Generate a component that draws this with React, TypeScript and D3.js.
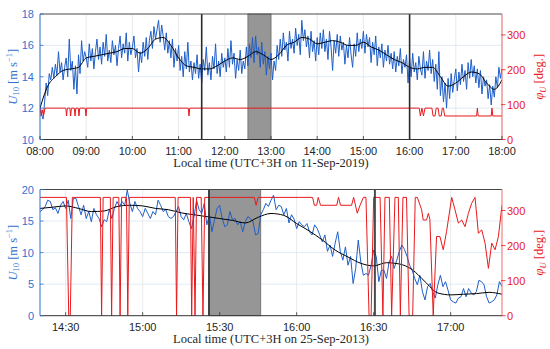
import * as d3 from "d3";

const W = 550;
const H = 349;

// ---- top panel: 11-Sep-2019, 08:00-18:00 ----
const topRange = ["08:00", "18:00"];
const topTicks = ["08:00", "09:00", "10:00", "11:00", "12:00", "13:00", "14:00", "15:00", "16:00", "17:00", "18:00"];
const topYTicks = [10, 12, 14, 16, 18];
const topMarkers = ["11:30", "16:00"];
const topShade = ["12:30", "13:00"];
// 2-min wind speed, from 08:00
const u10Top = [
  12.2, 11.6, 11.3, 12.4, 13.6, 12.8, 14.2, 13.8, 14.6, 13.9, 14.8, 14.1, 15.6, 14.3, 14.9, 13.8, 14.6, 15.2, 14.0, 16.4, 14.4, 15.0, 13.2, 14.7, 12.9, 15.4, 14.2, 16.3, 15.0, 15.6,
  15.2, 14.6, 16.1, 15.0, 15.8, 14.5, 15.6, 16.4, 15.1, 15.9, 14.8, 16.2, 15.3, 16.7, 15.0, 15.7, 14.9, 16.3, 15.4, 16.0, 14.7, 15.8, 16.6, 15.2, 16.1, 15.5, 16.8, 15.0, 16.2, 15.4,
  15.9, 16.6, 15.2, 15.8, 14.3, 15.6, 14.9, 16.2, 15.3, 16.5, 15.1, 16.3, 16.9, 15.8, 17.2, 16.4, 17.0, 17.6, 16.2, 17.3, 16.6, 15.7, 16.8, 15.5, 16.3, 15.2, 16.4, 14.6, 15.8, 15.0,
  16.0, 14.4, 15.3, 14.0, 15.6, 14.5, 16.2, 14.3, 15.0, 13.8, 14.9, 14.2, 15.4, 13.9, 14.8, 13.6, 15.1, 14.4, 15.9, 14.1, 14.9, 13.8, 15.3, 14.5, 16.1, 14.2, 15.0, 14.0, 15.5, 14.6,
  15.2, 14.3, 15.8, 14.6, 16.3, 14.8, 15.5, 13.9, 15.1, 14.4, 15.7, 14.2, 15.0, 14.5, 15.9, 14.7, 16.1, 15.2, 16.5, 14.9, 16.6, 15.4, 15.9, 14.6, 16.2, 14.8, 15.6, 14.1, 15.3, 14.5,
  15.5, 13.8, 15.0, 14.4, 16.0, 15.1, 16.4, 15.3, 16.8, 15.7, 16.2, 15.0, 16.9, 15.8, 16.4, 15.5, 17.1, 16.0, 16.7, 15.4, 17.6, 16.3, 17.0, 15.9, 16.6, 15.2, 16.9, 15.6, 16.3, 15.0,
  16.5, 15.4, 16.8, 15.8, 17.0, 15.6, 16.4, 15.1, 16.9, 15.9, 14.4, 16.3, 15.5, 16.7, 15.3, 16.6, 15.7, 16.2, 14.8, 16.0, 15.2, 16.5, 15.4, 14.6, 16.1, 15.3, 16.8, 15.6, 16.4, 15.8,
  16.9, 15.5, 16.7, 15.9, 16.5, 14.9, 16.2, 15.4, 16.6, 14.7, 15.9, 15.2, 16.1, 14.6, 15.7, 15.0, 16.0, 14.8, 15.5, 14.5, 15.6, 14.3, 15.3, 14.7, 15.8, 14.2, 15.1, 14.6, 15.4, 13.6,
  15.2, 14.0, 15.5, 14.3, 14.9, 13.8, 15.3, 14.5, 14.1, 15.6, 13.9, 15.0, 14.4, 15.7, 14.2, 15.1, 13.7, 14.8, 13.2, 15.6, 12.8, 14.0, 12.4, 13.6, 12.0, 13.9, 12.6, 14.2, 13.0, 13.8,
  14.5, 13.1, 14.3, 13.5, 14.8, 13.7, 14.4, 13.2, 14.9, 13.9, 15.1, 14.0, 14.7, 13.6, 14.5, 13.3, 14.4, 12.9, 14.0, 13.4, 13.8, 12.6, 13.5, 12.2, 13.4, 12.7, 14.0, 13.3, 14.6, 13.9,
  14.5,
];
// 10-min running mean, from 08:00
const u10TopMean = [
  12.0, 13.4, 14.0, 14.4, 14.5, 14.6,
  15.2, 15.3, 15.4, 15.5, 15.6, 15.8,
  15.8, 15.5, 15.8, 16.4, 16.5, 16.0,
  15.2, 14.7, 14.6, 14.5, 14.5, 14.7,
  15.0, 15.2, 15.1, 15.3, 15.6, 15.4,
  15.1, 15.4, 16.0, 16.2, 16.5, 16.4,
  16.1, 16.2, 16.3, 16.2, 16.0, 16.0,
  16.2, 15.9, 15.7, 15.4, 15.1, 14.9,
  14.6, 14.5, 14.6, 14.6, 14.0, 13.4,
  13.6, 14.0, 14.3, 14.2, 13.6, 13.2,
  13.8,
];
// wind direction [minutes after 08:00, deg]
const phiTop: [number, number][] = [
  [0, 90], [1.5, 67.5], [3, 85], [4.5, 67.5], [6.5, 90],
  [33.5, 90], [34.5, 67.5], [35.5, 90], [38.8, 90], [39.8, 67.5], [40.8, 90],
  [44.5, 90], [45.5, 67.5], [46.5, 90], [49.6, 90], [50.6, 67.5], [51.6, 90],
  [58.7, 90], [59.7, 67.5], [60.7, 90],
  [192.5, 90], [193.5, 67.5], [194.5, 90],
  [492.5, 90], [494, 67.5], [496, 90], [498, 67.5], [500, 90],
  [509, 90], [510.5, 67.5], [513, 67.5], [514.5, 90], [517, 90], [518.5, 67.5], [521, 67.5], [522.5, 90],
  [524, 90], [525.5, 67.5], [567, 67.5], [568, 90], [569, 67.5], [586, 67.5], [587, 90], [588, 67.5], [600, 67.5],
];

// ---- bottom panel: 25-Sep-2013, 14:20-17:20 ----
const botRange = ["14:20", "17:20"];
const botTicks = ["14:30", "15:00", "15:30", "16:00", "16:30", "17:00"];
const botYTicks = [0, 5, 10, 15, 20];
const botMarkers = ["15:25:50", "16:30:30"];
const botShade = ["15:25:50", "15:46:00"];
// 1-min wind speed, from 14:20
const u10Bot = [
  16.5, 16.8, 17.3, 18.3, 18.1, 16.8, 17.1, 16.2, 17.5, 18.1,
  17.0, 18.3, 15.4, 18.6, 18.6, 17.3, 16.0, 17.5, 15.4, 16.5,
  14.9, 17.0, 16.0, 15.4, 14.1, 15.2, 14.9, 16.8, 15.4, 17.0,
  18.1, 17.3, 18.1, 17.5, 19.9, 17.8, 16.5, 18.1, 17.0, 16.5,
  15.7, 17.0, 16.2, 15.4, 16.5, 16.0, 18.3, 17.5, 16.5, 16.8,
  15.7, 15.4, 15.7, 16.5, 17.3, 15.7, 15.2, 16.2, 14.9, 13.8,
  15.7, 18.3, 16.8, 16.2, 17.8, 14.4, 16.0, 13.3, 15.2, 17.0,
  17.5, 15.4, 14.1, 14.4, 16.5, 15.2, 15.4, 14.4, 14.9, 13.3,
  14.9, 15.7, 15.4, 14.9, 12.8, 13.0, 16.0, 16.8, 17.8, 17.3,
  18.3, 19.1, 16.8, 17.5, 17.3, 16.0, 17.0, 14.7, 16.0, 15.3,
  13.8, 14.9, 14.4, 14.1, 14.6, 13.3, 12.8, 14.4, 13.8, 12.8,
  11.7, 12.8, 10.2, 11.2, 9.4, 11.5, 13.3, 10.2, 8.8, 10.9,
  8.0, 9.4, 5.1, 7.5, 12.0, 8.5, 6.4, 6.7, 6.4, 8.0,
  10.4, 9.4, 5.4, 7.2, 7.2, 5.9, 8.5, 9.4, 7.5, 8.8,
  10.2, 11.2, 10.5, 9.4, 8.0, 7.2, 5.9, 4.9, 6.4, 3.8,
  2.5, 4.6, 5.1, 3.8, 2.8, 4.9, 6.4, 4.6, 5.4, 4.0,
  2.5, 2.2, 2.0, 2.8, 3.0, 4.3, 3.0, 4.3, 3.6, 3.3,
  3.8, 5.6, 5.4, 4.9, 3.0, 2.0, 2.2, 2.5, 3.3, 5.4,
  4.6,
];
// 5-min running mean, from 14:20
const u10BotMean = [
  17.0, 17.2, 17.4, 17.0, 16.5, 16.6, 17.3, 17.5, 17.4, 17.0,
  16.8, 16.3, 16.0, 15.7, 15.4, 15.1, 14.7, 15.6, 16.2, 15.9,
  14.6, 13.4, 12.0, 10.4, 9.3, 8.3, 7.9, 8.4, 8.2, 7.3,
  5.4, 3.6, 3.3, 3.4, 3.5, 3.7, 3.4,
];
// wind direction [minutes after 14:20, deg]
const phiBot: [number, number][] = [
  [0, 337.5], [10.3, 337.5], [11.2, 0], [11.8, 0], [12.6, 337.5],
  [23.5, 337.5], [24, 0], [24.6, 337.5],
  [27.4, 337.5], [27.9, 0], [28.5, 337.5],
  [30.7, 337.5], [31.2, 0], [31.8, 337.5],
  [33.7, 337.5], [34.2, 0], [34.8, 337.5],
  [52.7, 337.5], [53.2, 0], [53.8, 337.5],
  [58.6, 337.5], [59.1, 0], [59.7, 337.5], [60.4, 0], [61, 337.5],
  [62.8, 337.5], [63.5, 0], [64.2, 337.5],
  [83.5, 337.5], [84.2, 315], [85, 337.5],
  [106.2, 337.5], [106.9, 315], [107.8, 315], [108.4, 337.5], [109.3, 315],
  [115.6, 315], [116.3, 337.5], [117.1, 315],
  [121.4, 315], [122.2, 337.5], [123.6, 292.5], [124.7, 315], [126, 337.5], [127, 337.5],
  [128.2, 0], [129, 0], [130, 337.5], [132.5, 337.5], [133.6, 0], [134.4, 337.5],
  [136.1, 337.5], [137, 0], [138.3, 337.5], [139.6, 337.5], [140.4, 0], [141.4, 337.5],
  [142.8, 337.5], [143.8, 0], [145.2, 0], [146.2, 337.5], [147, 337.5],
  [148.7, 302], [149.3, 273], [150.6, 273], [151.3, 292], [151.9, 275], [153.2, 0],
  [154.5, 226], [155.8, 226], [157.1, 188], [158.4, 240], [160.4, 337.5], [161.7, 302],
  [163, 264], [164.3, 273], [165.6, 254], [166.9, 292], [168.2, 321], [169.5, 337.5],
  [170.8, 235], [172.1, 245], [173.4, 207], [174.7, 135], [176, 207], [177.3, 188],
  [178.6, 226], [180, 316],
];

const BLUE = "#1f5fc8";
const AXBLUE = "#2f73cf";
const RED = "#e8191c";
const SANS = "'Liberation Sans', Arial, sans-serif";
const SERIF = "'Liberation Serif', 'Times New Roman', serif";

function toMin(s: string) {
  const [h, m, sec = 0] = s.split(":").map(Number);
  return h * 60 + m + sec / 60;
}

type PanelProps = {
  id: string;
  top: number;
  bottom: number;
  range: string[];
  ticks: string[];
  yTicks: number[];
  u10: number[];
  u10Step: number;
  mean: number[];
  meanStep: number;
  phi: [number, number][];
  markers: string[];
  shade: string[];
  xlabel: string;
};

function Panel(p: PanelProps) {
  const left = 40;
  const right = 502;
  const t0 = toMin(p.range[0]);
  const x = d3.scaleLinear().domain([t0, toMin(p.range[1])]).range([left, right]);
  const yL = d3
    .scaleLinear()
    .domain([p.yTicks[0], p.yTicks[p.yTicks.length - 1]])
    .range([p.bottom, p.top]);
  const yR = d3.scaleLinear().domain([0, 360]).range([p.bottom, p.top]);
  const rTicks = [0, 100, 200, 300];

  const blue = d3
    .line<number>()
    .x((_, i) => x(t0 + i * p.u10Step))
    .y((d) => yL(d))(p.u10);
  const black = d3
    .line<number>()
    .x((_, i) => x(t0 + i * p.meanStep))
    .y((d) => yL(d))
    .curve(d3.curveMonotoneX)(p.mean);
  const red = d3
    .line<[number, number]>()
    .x((d) => x(t0 + d[0]))
    .y((d) => yR(d[1]))(p.phi);

  const cy = (p.top + p.bottom) / 2;
  const s0 = x(toMin(p.shade[0]));
  const s1 = x(toMin(p.shade[1]));

  return (
    <g>
      <defs>
        <clipPath id={p.id}>
          <rect x={left} y={p.top} width={right - left} height={p.bottom - p.top} />
        </clipPath>
      </defs>
      {p.ticks.map((t) => (
        <line key={"gx" + t} x1={x(toMin(t))} x2={x(toMin(t))} y1={p.top} y2={p.bottom} stroke="#e4e4e4" strokeWidth={0.8} />
      ))}
      {p.yTicks.slice(1, -1).map((v) => (
        <line key={"gy" + v} x1={left} x2={right} y1={yL(v)} y2={yL(v)} stroke="#dbe4f0" strokeWidth={0.8} />
      ))}
      <rect x={s0} y={p.top} width={s1 - s0} height={p.bottom - p.top} fill="#969696" stroke="#6a6a6a" strokeWidth={0.8} />
      <g clipPath={`url(#${p.id})`}>
        <path d={blue ?? ""} fill="none" stroke={BLUE} strokeWidth={1} />
        <path d={black ?? ""} fill="none" stroke="#000" strokeWidth={1} />
        <path d={red ?? ""} fill="none" stroke={RED} strokeWidth={1} />
      </g>
      {p.markers.map((m) => (
        <line key={"m" + m} x1={x(toMin(m))} x2={x(toMin(m))} y1={p.top} y2={p.bottom} stroke="#2a2a2a" strokeWidth={1.6} />
      ))}
      {/* frame */}
      <line x1={left} x2={right} y1={p.top} y2={p.top} stroke="#4a4a4a" strokeWidth={1} />
      <line x1={left} x2={right} y1={p.bottom} y2={p.bottom} stroke="#333" strokeWidth={1} />
      <line x1={left} x2={left} y1={p.top} y2={p.bottom} stroke={AXBLUE} strokeWidth={1} />
      <line x1={right} x2={right} y1={p.top} y2={p.bottom} stroke="#f06a6a" strokeWidth={1} />
      {/* x ticks */}
      {p.ticks.map((t) => (
        <g key={"xt" + t}>
          <line x1={x(toMin(t))} x2={x(toMin(t))} y1={p.bottom} y2={p.bottom - 3.5} stroke="#333" strokeWidth={0.8} />
          <text x={x(toMin(t))} y={p.bottom + 15.5} textAnchor="middle" fontFamily={SANS} fontSize={11} fill="#262626">
            {t}
          </text>
        </g>
      ))}
      {/* left ticks */}
      {p.yTicks.map((v) => (
        <g key={"yl" + v}>
          <line x1={left} x2={left + 3.5} y1={yL(v)} y2={yL(v)} stroke={AXBLUE} strokeWidth={0.8} />
          <text x={34} y={yL(v) + 4} textAnchor="end" fontFamily={SANS} fontSize={11} fill={AXBLUE}>
            {v}
          </text>
        </g>
      ))}
      {/* right ticks */}
      {rTicks.map((v) => (
        <g key={"yr" + v}>
          <line x1={right - 1} x2={right + 3.5} y1={yR(v)} y2={yR(v)} stroke={RED} strokeWidth={0.8} />
          <text x={507} y={yR(v) + 4} textAnchor="start" fontFamily={SANS} fontSize={11} fill={RED}>
            {v}
          </text>
        </g>
      ))}
      {/* axis labels */}
      <text transform={`translate(16.5, ${cy}) rotate(-90)`} textAnchor="middle" fontFamily={SERIF} fontSize={12.5} fill={AXBLUE}>
        <tspan fontStyle="italic">U</tspan>
        <tspan fontSize={8.5} dy={2.5}>10</tspan>
        <tspan dy={-2.5}> [m s</tspan>
        <tspan fontSize={8.5} dy={-4.5}>−1</tspan>
        <tspan dy={4.5}>]</tspan>
      </text>
      <text transform={`translate(543, ${cy}) rotate(-90)`} textAnchor="middle" fontFamily={SERIF} fontSize={12.5} fill={RED}>
        <tspan fontStyle="italic">φ</tspan>
        <tspan fontSize={8.5} fontStyle="italic" dy={2.5}>U</tspan>
        <tspan dy={-2.5}> [deg.]</tspan>
      </text>
      <text x={(left + right) / 2} y={p.bottom + 27.5} textAnchor="middle" fontFamily={SERIF} fontSize={12.5} fill="#262626">
        {p.xlabel}
      </text>
    </g>
  );
}

export default function App() {
  return (
    <svg width={W} height={H} style={{ position: "absolute", left: 0, top: 0, background: "#fff" }}>
      <rect width={W} height={H} fill="#fff" />
      <Panel
        id="clip-top"
        top={14}
        bottom={139.5}
        range={topRange}
        ticks={topTicks}
        yTicks={topYTicks}
        u10={u10Top}
        u10Step={2}
        mean={u10TopMean}
        meanStep={10}
        phi={phiTop}
        markers={topMarkers}
        shade={topShade}
        xlabel="Local time (UTC+3H on 11-Sep-2019)"
      />
      <Panel
        id="clip-bot"
        top={189.5}
        bottom={315.7}
        range={botRange}
        ticks={botTicks}
        yTicks={botYTicks}
        u10={u10Bot}
        u10Step={1}
        mean={u10BotMean}
        meanStep={5}
        phi={phiBot}
        markers={botMarkers}
        shade={botShade}
        xlabel="Local time (UTC+3H on 25-Sep-2013)"
      />
    </svg>
  );
}
